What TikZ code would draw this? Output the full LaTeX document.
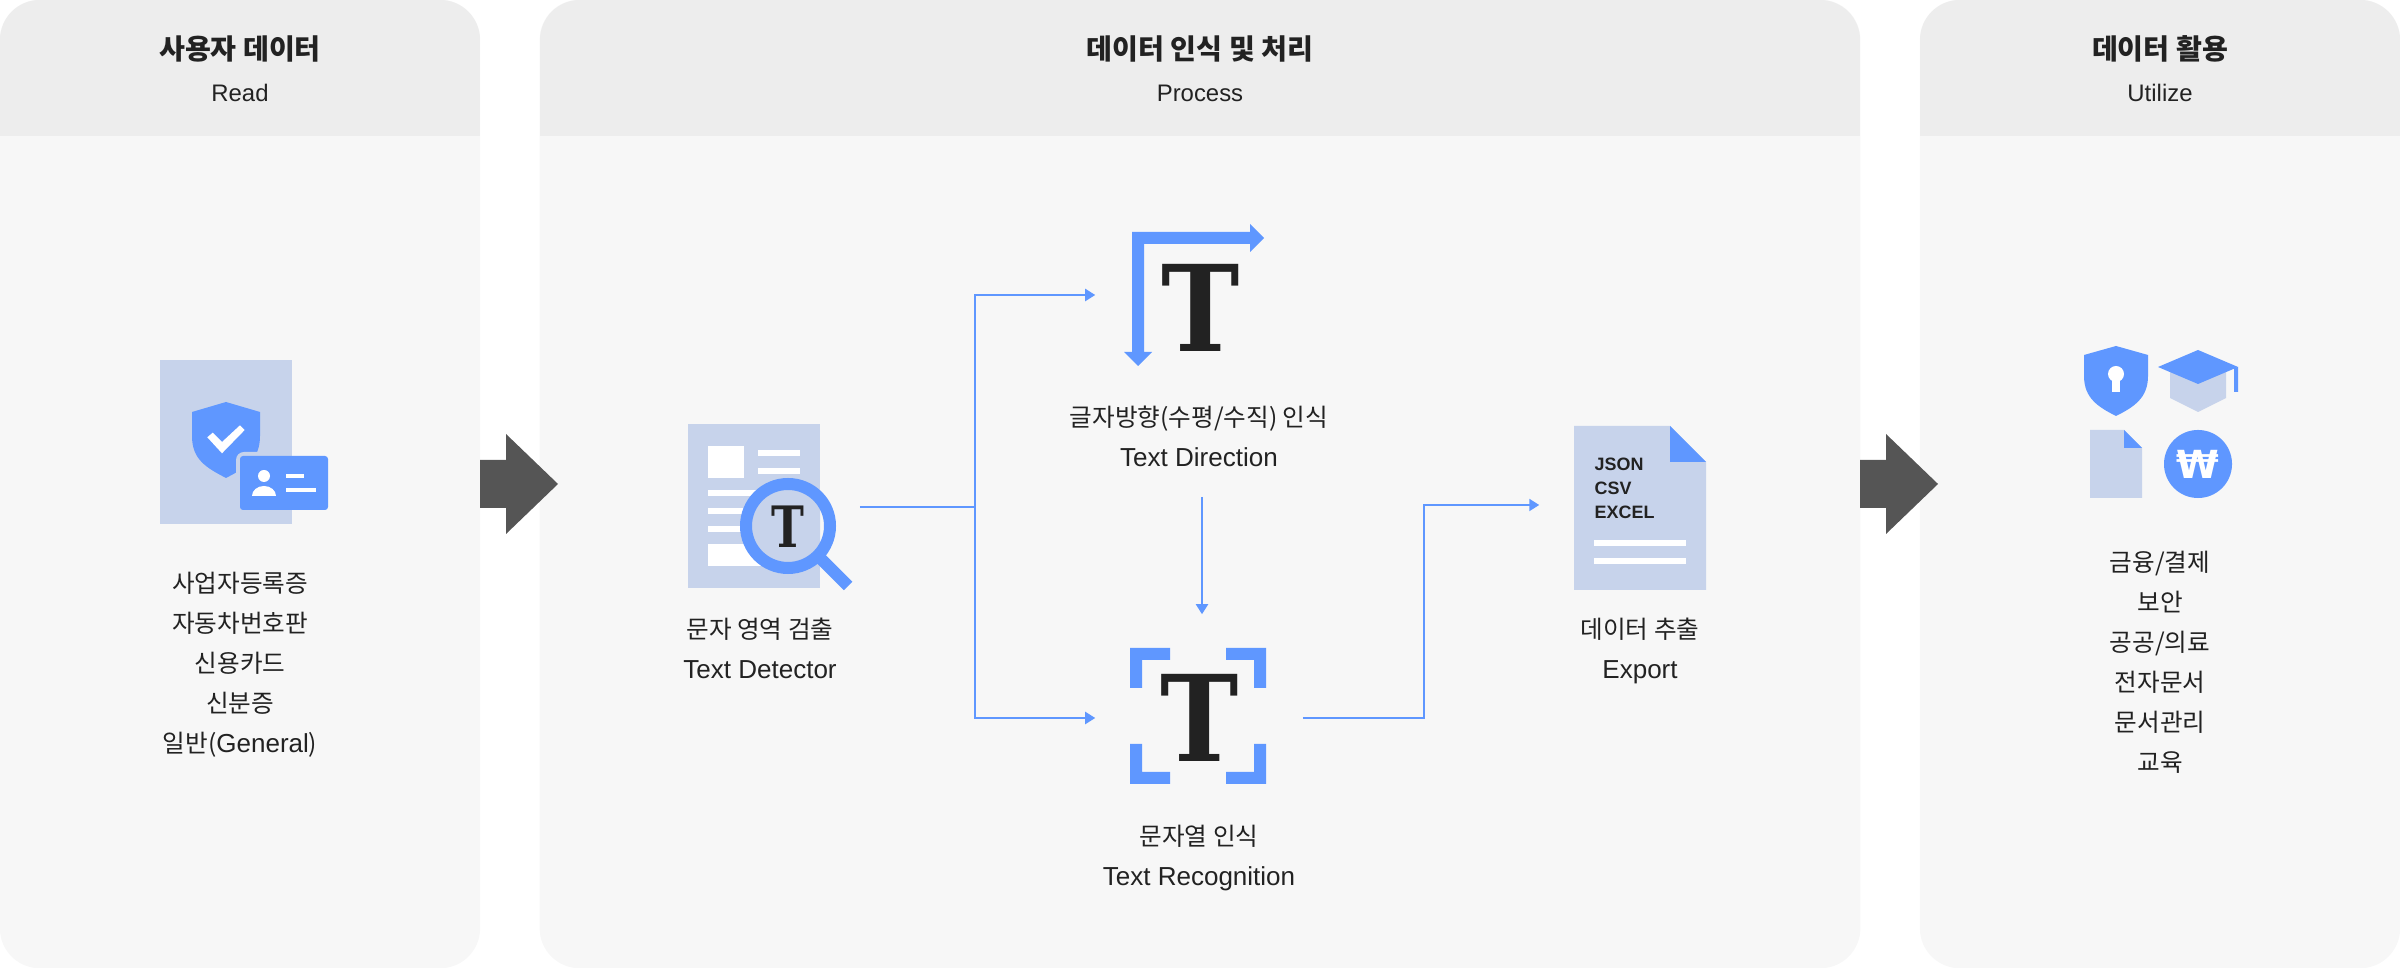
\documentclass[tikz,border=0pt]{standalone}
\usepackage{fontspec}
\setmainfont{Liberation Sans}
\newfontfamily\krfont{Noto Sans CJK KR}
\newfontfamily\slabfont{DejaVu Serif}
\newfontfamily\wonfont{DejaVu Sans}
\usetikzlibrary{arrows.meta}
\definecolor{bluemain}{HTML}{5F97FF}
\definecolor{bluesoft}{HTML}{C7D3EB}
\definecolor{panelbg}{HTML}{F7F7F7}
\definecolor{headbg}{HTML}{EDEDED}
\definecolor{arrowgray}{HTML}{555555}
\definecolor{inkdark}{HTML}{222222}
\newcommand{\entext}[1]{{\rmfamily\fontsize{7.4}{11.38}\selectfont #1}}

\begin{document}
\begin{tikzpicture}[
    x=0.01cm, y=-0.01cm,
    panel/.style={rectangle, fill=panelbg, rounded corners=0.4cm, inner sep=0, minimum height=9.68cm},
    header/.style={fill=headbg},
    title/.style={text=inkdark, font=\krfont\bfseries\fontsize{8}{10}\selectfont, inner sep=0},
    subtitle/.style={text=inkdark, font=\fontsize{6.8}{10}\selectfont, inner sep=0},
    label/.style={text=inkdark, font=\krfont\fontsize{7}{11.38}\selectfont, align=center, inner sep=0, execute at begin node=\strut, execute at end node=\strut},
    iconbox/.style={rectangle, inner sep=0},
    bigT/.style={text=inkdark, font=\slabfont\bfseries\fontsize{34}{34}\selectfont, inner sep=0, xscale=0.88, text height=25pt, text depth=0pt},
    smallT/.style={bigT, scale=0.477, xscale=0.88},
    flow/.style={-{Triangle[length=0.1cm, width=0.12cm]}, bluemain, line width=0.02cm},
    blockarrow/.style={fill=arrowgray},
    whitebar/.style={fill=white},
    docfill/.style={fill=bluesoft},
    bluefill/.style={fill=bluemain}
]
\useasboundingbox (0,0) rectangle (2400,968);

% Panels
\node[panel, minimum width=4.8cm] (readp) at (240,484) {};
\node[panel, minimum width=13.2cm] (procp) at (1200,484) {};
\node[panel, minimum width=4.8cm] (usep) at (2160,484) {};
\foreach \xa/\xb in {0/480, 540/1860, 1920/2400} {
    \begin{scope}
        \clip[rounded corners=0.4cm] (\xa,0) rectangle (\xb,968);
        \fill[header] (\xa,0) rectangle (\xb,136);
    \end{scope}
}

% Headers
\node[title] (readt) at (240,48.5) {사용자 데이터};
\node[subtitle] (reads) at (240,93) {Read};
\node[title] (proct) at (1200,48.5) {데이터 인식 및 처리};
\node[subtitle] (procs) at (1200,93) {Process};
\node[title] (uset) at (2160,48.5) {데이터 활용};
\node[subtitle] (uses) at (2160,93) {Utilize};

% Block arrows
\foreach \xa in {480, 1860} {
    \fill[blockarrow] (\xa,460) -- ++(26,0) -- ++(0,-26) -- ++(52,50) -- ++(-52,50) -- ++(0,-26) -- ++(-26,0) -- cycle;
}

% Read icon
\fill[docfill] (160,360) rectangle (292,524);
\fill[bluefill] (226,402) -- (260,412) -- (260,436) .. controls (260,460) and (245,468) .. (226,478) .. controls (207,468) and (192,460) .. (192,436) -- (192,412) -- cycle;
\fill[whitebar] (207.3,437.3) -- (212.7,432.7) -- (222,442) -- (240,425.3) -- (244.7,430) -- (222,453.3) -- cycle;
\fill[docfill, rounded corners=0.08cm] (236,452) rectangle (292,514);
\fill[bluefill, rounded corners=0.03cm] (240,456) rectangle (328,510);
\fill[whitebar] (264,476) circle (6);
\fill[whitebar] (252,496) arc[start angle=180, end angle=0, x radius=12, y radius=-10] -- cycle;
\fill[whitebar] (286,474) rectangle (304,478);
\fill[whitebar] (286,488) rectangle (316,492);

% Detector icon
\fill[docfill] (688,424) rectangle (820,588);
\fill[whitebar] (708,446) rectangle (744,478);
\fill[whitebar] (758,450) rectangle (800,456);
\fill[whitebar] (758,468) rectangle (800,474);
\foreach \ya in {490, 508, 526} {
    \fill[whitebar] (708,\ya) rectangle (770,\ya+6);
}
\fill[whitebar] (708,544) rectangle (770,566);
\begin{scope}
    \clip (688,424) rectangle (820,588);
    \fill[docfill] (788,526) circle (42);
\end{scope}
\draw[bluemain, line width=0.12cm, line cap=butt] (819,557) -- (848,586);
\draw[bluemain, line width=0.12cm] (788,526) circle (42);
\node[smallT] (detectT) at (788,527) {T};

% Direction icon
\fill[bluefill] (1132,352) -- (1132,232) -- (1250,232) -- (1250,224) -- (1264,238) -- (1250,252) -- (1250,244) -- (1144,244) -- (1144,352) -- (1152,352) -- (1138,366) -- (1124,352) -- cycle;
\node[bigT] (directT) at (1201,308) {T};

% Recognition icon
\foreach \xc/\yc/\sx/\sy in {1130/648/1/1, 1266/648/-1/1, 1130/784/1/-1, 1266/784/-1/-1} {
    \fill[bluefill] (\xc,\yc) -- ++(\sx*40,0) -- ++(0,\sy*12) -- ++(-\sx*28,0) -- ++(0,\sy*28) -- ++(-\sx*12,0) -- cycle;
}
\node[bigT] (recogT) at (1200,718) {T};

% Export icon
\fill[docfill] (1574,426) -- (1670,426) -- (1706,462) -- (1706,590) -- (1574,590) -- cycle;
\fill[bluefill] (1670,426) -- (1706,462) -- (1670,462) -- cycle;
\node[text=inkdark, font=\fontsize{5.1}{6.83}\selectfont\bfseries, align=left, anchor=north west, inner sep=0] (formats) at (1594,457) {JSON\\CSV\\EXCEL};
\fill[whitebar] (1594,540) rectangle (1686,546);
\fill[whitebar] (1594,558) rectangle (1686,564);

% Utilize icons
\fill[bluefill] (2116,346) -- (2148,355) -- (2148,376) .. controls (2148,398) and (2134,407) .. (2116,416) .. controls (2098,407) and (2084,398) .. (2084,376) -- (2084,355) -- cycle;
\fill[whitebar] (2116,374) circle (8);
\fill[whitebar] (2112,376) rectangle (2120,392);
\fill[docfill] (2170,370) -- (2226,370) -- (2226,398) -- (2198,412) -- (2170,398) -- cycle;
\fill[bluefill] (2158,367) -- (2198,350) -- (2238,367) -- (2198,384) -- cycle;
\fill[bluefill] (2234,368) -- (2238,367) -- (2238,392) -- (2234,392) -- cycle;
\fill[docfill] (2090,430) -- (2124,430) -- (2142,448) -- (2142,498) -- (2090,498) -- cycle;
\fill[bluefill] (2124,430) -- (2142,448) -- (2124,448) -- cycle;
\node[circle, fill=bluemain, minimum size=0.68cm, inner sep=0, text=white, font=\wonfont\bfseries\fontsize{11}{11}\selectfont] (won) at (2198,464) {₩};

% Labels
\node[label] (readl) at (240,668) {사업자등록증\\자동차번호판\\신용카드\\신분증\\일반(\entext{General})};
\node[label] (detectl) at (760,654) {문자 영역 검출\\\entext{Text Detector}};
\node[label] (directl) at (1199,442) {글자방향(수평/수직) 인식\\\entext{Text Direction}};
\node[label] (recogl) at (1199,861) {문자열 인식\\\entext{Text Recognition}};
\node[label] (exportl) at (1640,654) {데이터 추출\\\entext{Export}};
\node[label] (usel) at (2160,667) {금융/결제\\보안\\공공/의료\\전자문서\\문서관리\\교육};

% Connector boxes
\node[iconbox, minimum width=1.71cm, minimum height=1.64cm] (detect) at (773.5,507) {};
\node[iconbox, minimum width=2.12cm, minimum height=4.02cm] (direct) at (1202,295) {};
\node[iconbox, minimum width=2.06cm, minimum height=2.06cm] (recog) at (1199,718) {};
\node[iconbox, minimum width=1.66cm, minimum height=1.64cm] (export) at (1623,505) {};
\coordinate (split) at (975,507);
\coordinate (bend) at (1424,505);

% Connections
\draw[bluemain, line width=0.02cm] (detect.east) -- (split);
\draw[flow] (split) |- (direct.west);
\draw[flow] (split) |- (recog.west);
\draw[flow] (direct.south) -- (direct.south |- recog.north);
\draw[flow] (recog.east) -| (bend) -- (export.west);
\end{tikzpicture}
\end{document}
